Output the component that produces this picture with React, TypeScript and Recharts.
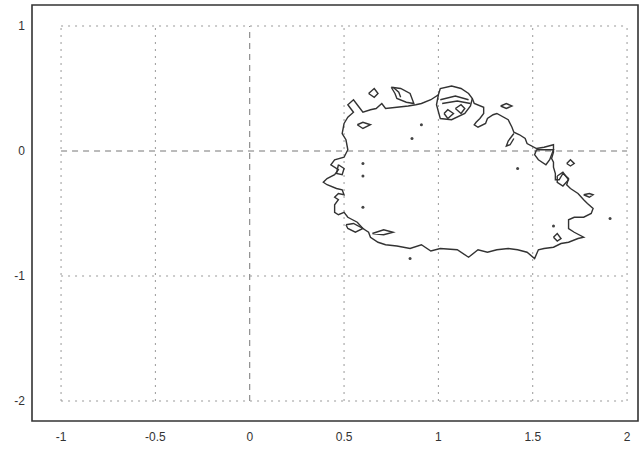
import {
  ComposedChart,
  Line,
  Scatter,
  XAxis,
  YAxis,
  ReferenceLine,
  ReferenceArea,
} from "recharts";

type Pt = [number, number];

const X_TICKS = [-1, -0.5, 0, 0.5, 1, 1.5, 2];
const Y_TICKS = [1, 0, -1, -2];
const X_DOMAIN: [number, number] = [-1.154, 2.058];
const Y_DOMAIN: [number, number] = [-2.16, 1.168];

// outer level curve
const mainLoop: Pt[] = [
  [0.5, 0.22], [0.52, 0.27], [0.55, 0.31], [0.52, 0.37], [0.55, 0.41], [0.58, 0.35],
  [0.6, 0.31], [0.64, 0.33], [0.67, 0.34], [0.7, 0.38], [0.72, 0.34], [0.78, 0.35],
  [0.84, 0.36], [0.88, 0.37], [0.91, 0.38], [0.96, 0.41], [1.0, 0.45], [1.01, 0.5],
  [1.07, 0.52], [1.12, 0.5], [1.16, 0.46], [1.18, 0.42], [1.19, 0.38], [1.24, 0.35],
  [1.24, 0.3], [1.22, 0.26], [1.2, 0.23], [1.19, 0.21], [1.21, 0.19], [1.25, 0.22],
  [1.26, 0.26], [1.29, 0.29], [1.31, 0.3], [1.37, 0.25], [1.39, 0.19], [1.4, 0.15],
  [1.43, 0.13], [1.46, 0.1], [1.47, 0.06], [1.52, 0.02], [1.56, 0.03], [1.61, 0.05],
  [1.61, -0.01], [1.6, -0.06], [1.61, -0.09], [1.61, -0.13], [1.62, -0.18], [1.62, -0.23],
  [1.64, -0.23], [1.66, -0.18], [1.69, -0.22], [1.68, -0.27], [1.7, -0.3], [1.74, -0.34],
  [1.77, -0.39], [1.79, -0.42], [1.82, -0.46], [1.81, -0.5], [1.77, -0.53], [1.72, -0.53],
  [1.69, -0.55], [1.69, -0.62], [1.72, -0.65], [1.77, -0.69], [1.74, -0.7], [1.69, -0.73],
  [1.65, -0.74], [1.61, -0.77], [1.56, -0.78], [1.53, -0.79], [1.51, -0.86], [1.47, -0.81],
  [1.42, -0.79], [1.37, -0.78], [1.31, -0.79], [1.26, -0.81], [1.21, -0.79], [1.16, -0.85],
  [1.1, -0.79], [1.01, -0.78], [0.96, -0.8], [0.91, -0.75], [0.85, -0.78], [0.78, -0.76],
  [0.72, -0.75], [0.68, -0.73], [0.64, -0.69], [0.63, -0.65], [0.6, -0.62], [0.57, -0.57],
  [0.52, -0.53], [0.5, -0.49], [0.47, -0.51], [0.45, -0.49], [0.45, -0.43], [0.47, -0.39],
  [0.45, -0.37], [0.47, -0.34], [0.5, -0.35], [0.49, -0.31], [0.46, -0.3], [0.41, -0.27],
  [0.39, -0.25], [0.41, -0.22], [0.45, -0.19], [0.47, -0.15], [0.43, -0.11], [0.45, -0.07],
  [0.5, -0.05], [0.52, 0.01], [0.51, 0.09], [0.49, 0.14], [0.5, 0.22],
];

// small islands and side pieces
const islands: Pt[][] = [
  [[0.63, 0.46], [0.66, 0.5], [0.68, 0.46], [0.66, 0.43], [0.63, 0.46]],
  [[0.57, 0.21], [0.6, 0.23], [0.64, 0.21], [0.6, 0.18], [0.57, 0.21]],
  [[0.75, 0.51], [0.8, 0.5], [0.85, 0.46], [0.87, 0.38], [0.83, 0.39], [0.78, 0.42], [0.77, 0.46], [0.75, 0.51]],
  [[0.76, 0.51], [0.79, 0.47], [0.8, 0.43]],
  [[1.0, 0.45], [0.99, 0.37], [1.01, 0.26], [1.07, 0.25], [1.14, 0.3], [1.17, 0.36], [1.18, 0.42]],
  [[1.03, 0.3], [1.05, 0.33], [1.08, 0.3], [1.05, 0.26], [1.03, 0.3]],
  [[1.09, 0.34], [1.12, 0.37], [1.14, 0.34], [1.12, 0.3], [1.09, 0.34]],
  [[1.01, 0.41], [1.09, 0.44], [1.16, 0.41]],
  [[1.02, 0.38], [1.1, 0.4], [1.17, 0.38]],
  [[1.33, 0.36], [1.36, 0.38], [1.39, 0.36], [1.36, 0.34], [1.33, 0.36]],
  [[1.4, 0.14], [1.37, 0.08], [1.36, 0.04], [1.38, 0.05], [1.4, 0.1]],
  [[1.52, 0.01], [1.61, 0.01], [1.59, -0.07], [1.57, -0.11], [1.53, -0.07], [1.51, -0.03], [1.52, 0.01]],
  [[1.68, -0.1], [1.7, -0.07], [1.72, -0.1], [1.7, -0.12], [1.68, -0.1]],
  [[1.63, -0.2], [1.66, -0.17], [1.69, -0.23], [1.66, -0.28], [1.63, -0.25], [1.63, -0.2]],
  [[1.77, -0.35], [1.8, -0.34], [1.82, -0.35], [1.8, -0.37], [1.77, -0.35]],
  [[1.61, -0.69], [1.63, -0.66], [1.65, -0.7], [1.63, -0.72], [1.61, -0.69]],
  [[0.65, -0.66], [0.71, -0.63], [0.76, -0.65], [0.71, -0.67], [0.65, -0.66]],
  [[0.47, -0.11], [0.5, -0.14], [0.49, -0.19], [0.46, -0.18], [0.47, -0.11]],
  [[0.51, -0.59], [0.55, -0.58], [0.6, -0.62], [0.56, -0.65], [0.52, -0.62], [0.51, -0.59]],
];

const dots: Pt[] = [
  [0.91, 0.21], [0.86, 0.1], [0.6, -0.1], [0.6, -0.2], [0.6, -0.45],
  [0.85, -0.86], [1.42, -0.14], [1.61, -0.6], [1.91, -0.54],
];

const toPts = (arr: Pt[]) => arr.map(([x, y]) => ({ x, y }));

const tickStyle = { fill: "#333", fontSize: 12, fontFamily: "Liberation Sans, Arial, sans-serif" };

const App = () => {
  const yMin = Y_TICKS[Y_TICKS.length - 1];
  const yMax = Y_TICKS[0];
  const xMin = X_TICKS[0];
  const xMax = X_TICKS[X_TICKS.length - 1];

  return (
    <div style={{ position: "absolute", left: 0, top: 0, width: 643, height: 450, background: "#fff" }}>
      <ComposedChart width={643} height={450} margin={{ top: 5, right: 5, left: 0, bottom: 0 }}>
        <XAxis
          type="number"
          dataKey="x"
          domain={X_DOMAIN}
          ticks={X_TICKS}
          interval={0}
          allowDataOverflow
          axisLine={false}
          tickLine={false}
          tickSize={8}
          tickMargin={3}
          height={29}
          tick={tickStyle}
        />
        <YAxis
          type="number"
          dataKey="y"
          domain={Y_DOMAIN}
          ticks={Y_TICKS}
          interval={0}
          allowDataOverflow
          axisLine={false}
          tickLine={false}
          tickSize={5}
          tickMargin={2}
          width={32}
          tick={tickStyle}
        />
        {X_TICKS.map((t) => (
          <ReferenceLine
            key={`vx${t}`}
            segment={[{ x: t, y: yMin }, { x: t, y: yMax }]}
            stroke={t === 0 ? "#777" : "#999"}
            strokeDasharray={t === 0 ? "6 5" : "2 5"}
            strokeWidth={1}
          />
        ))}
        {Y_TICKS.map((t) => (
          <ReferenceLine
            key={`hy${t}`}
            segment={[{ x: xMin, y: t }, { x: xMax, y: t }]}
            stroke={t === 0 ? "#777" : "#999"}
            strokeDasharray={t === 0 ? "6 5" : "2 5"}
            strokeWidth={1}
          />
        ))}
        <ReferenceArea
          x1={X_DOMAIN[0]}
          x2={X_DOMAIN[1]}
          y1={Y_DOMAIN[0]}
          y2={Y_DOMAIN[1]}
          fill="none"
          stroke="#333"
          strokeWidth={1.6}
        />
        <Line
          data={toPts(mainLoop)}
          dataKey="y"
          type="linear"
          stroke="#333"
          strokeWidth={1.4}
          dot={false}
          isAnimationActive={false}
        />
        {islands.map((isl, i) => (
          <Line
            key={`isl${i}`}
            data={toPts(isl)}
            dataKey="y"
            type="linear"
            stroke="#333"
            strokeWidth={1.4}
            dot={false}
            isAnimationActive={false}
          />
        ))}
        <Scatter
          data={toPts(dots)}
          dataKey="y"
          isAnimationActive={false}
          shape={(p: any) => <circle cx={p.cx} cy={p.cy} r={1.5} fill="#444" />}
        />
      </ComposedChart>
    </div>
  );
};

export default App;
